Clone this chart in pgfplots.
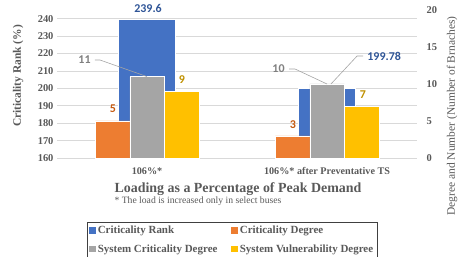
\documentclass[border=0pt]{standalone}
\usepackage{pgfplots}
\pgfplotsset{compat=1.18}
\usepackage{fontspec}
\setmainfont{Liberation Serif}
\newfontfamily\calfont{Carlito}
\definecolor{cblue}{HTML}{4472C4}
\definecolor{corange}{HTML}{ED7D31}
\definecolor{cgray}{HTML}{A5A5A5}
\definecolor{cyellow}{HTML}{FFC000}
\definecolor{tx}{HTML}{595959}
\definecolor{gridc}{HTML}{D9D9D9}
\definecolor{lblue}{HTML}{2F5597}
\definecolor{lorange}{HTML}{C55A11}
\definecolor{lgray}{HTML}{7F7F7F}
\definecolor{lyellow}{HTML}{BF9000}
\pgfplotsset{
  base/.style={
    scale only axis, width=360bp, height=148bp, at={(57bp,99bp)}, anchor=south west,
    xmin=-0.5, xmax=1.5,
    /pgf/number format/assume math mode=true,
    axis line style={draw=none}, major tick length=0pt,
    ticklabel style={font=\bfseries\fontsize{10.5}{12}\selectfont, text=tx},
  },
  sq/.style={legend image code/.code={\fill[##1, draw=none] (0bp,-3.2bp) rectangle (6.4bp,3.2bp);}},
}
\tikzset{dl/.style={font=\calfont\bfseries\fontsize{12}{14}\selectfont}}
\begin{document}
\begin{tikzpicture}
\begin{axis}[base, ymin=160, ymax=245, ytick={160,170,...,240},
  ymajorgrids, grid style={gridc, line width=0.75bp},
  xtick={0,1}, xticklabels={106\%*, 106\%* after Preventative TS},
  xticklabel style={font=\bfseries\fontsize{10.2}{12}\selectfont, yshift=-6bp},
  ylabel={Criticality Rank (\%)},
  ylabel style={font=\bfseries\fontsize{11.5}{13}\selectfont, text=tx, at={(axis description cs:-0.108,0.554)}, anchor=center},
  ybar, bar width=57bp]
\addplot[fill=cblue, draw=white, line width=0.5bp, bar shift=0pt] coordinates {(0,239.6) (1,199.78)};
\end{axis}
\begin{axis}[base, ymin=0, ymax=20, ytick={0,5,...,20},
  axis y line*=right, axis x line=none,
  yticklabel style={xshift=6bp},
  ybar, bar width=34.5bp, clip=false,
  legend columns=2, legend cell align=left,
  legend style={at={(axis description cs:0.0833,-0.43)}, anchor=north west,
    draw=black!75, line width=0.8bp, font=\bfseries\fontsize{11}{13}\selectfont, text=tx,
    /tikz/every even column/.append style={column sep=12bp}, row sep=5.5bp, inner sep=2bp}]
\addlegendimage{sq, fill=cblue}
\addplot[sq, fill=corange, draw=white, line width=0.5bp, bar shift=-34.5bp] coordinates {(0,5) (1,3)};
\addplot[sq, fill=cgray, draw=white, line width=0.5bp, bar shift=0bp] coordinates {(0,11) (1,10)};
\addplot[sq, fill=cyellow, draw=white, line width=0.5bp, bar shift=34.5bp] coordinates {(0,9) (1,7)};
\legend{Criticality Rank, Criticality Degree, System Criticality Degree, System Vulnerability Degree}
% leader lines
\draw[cgray, line width=0.6bp] (axis cs:-0.289,13.24) -- (axis cs:-0.261,13.24) -- (axis cs:0,11);
\draw[cgray, line width=0.6bp] (axis cs:0.789,12.03) -- (axis cs:0.822,12.03) -- (axis cs:1,10);
\draw[cgray, line width=0.6bp] (axis cs:1.2,13.78) -- (axis cs:1.167,13.78) -- (axis cs:1.022,10);
% data labels
\node[dl, text=lblue] at (axis cs:0.006,20.27) {239.6};
\node[dl, text=lorange] at (axis cs:-0.189,6.62) {5};
\node[dl, text=lgray, anchor=east] at (axis cs:-0.294,13.24) {11};
\node[dl, text=lyellow] at (axis cs:0.194,10.54) {9};
\node[dl, text=lorange] at (axis cs:0.811,4.46) {3};
\node[dl, text=lyellow] at (axis cs:1.2,8.51) {7};
\node[dl, text=lgray, anchor=east] at (axis cs:0.784,12.03) {10};
\node[dl, text=lblue, anchor=west] at (axis cs:1.205,13.78) {199.78};
\end{axis}
\node[rotate=90, anchor=center, font=\fontsize{11.5}{13}\selectfont, text=tx] at (452bp,141bp) {Degree and Number (Number of Brnaches)};
\node[anchor=west, font=\bfseries\fontsize{14}{16}\selectfont, text=tx] at (111bp,68bp) {Loading as a Percentage of Peak Demand};
\node[anchor=west, font=\fontsize{9.7}{11}\selectfont, text=tx] at (111bp,56bp) {* The load is increased only in select buses};
\pgfresetboundingbox
\path[use as bounding box] (0,0) rectangle (471bp,257bp);
\end{tikzpicture}
\end{document}
